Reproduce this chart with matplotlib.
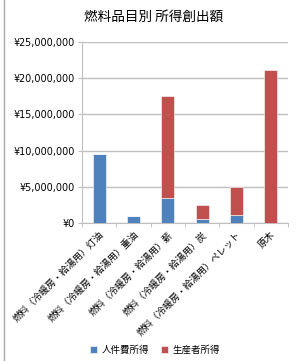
import matplotlib.pyplot as plt
import numpy as np

plt.rcParams['font.family'] = ['Noto Sans CJK JP', 'DejaVu Sans']

# データ
categories = ["燃料（冷暖房・給湯用）灯油", "燃料（冷暖房・給湯用）重油", "燃料（冷暖房・給湯用）薪",
              "燃料（冷暖房・給湯用）炭", "燃料（冷暖房・給湯用）ペレット", "原木"]
labor = [9500000, 950000, 3500000, 500000, 1100000, 0]
producer = [0, 0, 14000000, 2000000, 3900000, 21100000]
series_names = ["人件費所得", "生産者所得"]
yticks = [0, 5000000, 10000000, 15000000, 20000000, 25000000]

fig = plt.figure(figsize=(2.96, 3.61), dpi=100)
ax = fig.add_axes([82/296, 1-223/361, 206/296, 181/361])

x = np.arange(len(categories))
ax.bar(x, labor, width=0.38, color="#4F81BD", edgecolor="white", linewidth=0.4, label=series_names[0], zorder=3)
ax.bar(x, producer, width=0.38, bottom=labor, color="#C0504D", edgecolor="white", linewidth=0.4, label=series_names[1], zorder=3)

ax.set_xlim(-0.5, len(categories) - 0.5)
ax.set_ylim(0, 25000000)
ax.set_yticks(yticks)
ax.set_yticklabels(["¥{:,}".format(v) for v in yticks], fontsize=6.9, family=['DejaVu Sans'])
ax.yaxis.grid(True, color="#BFBFBF", linewidth=1, zorder=0)

ax.set_xticks(x)
ax.set_xticklabels(categories, rotation=45, ha="right", rotation_mode="anchor", fontsize=6.8)
ax.set_xticks(np.arange(len(categories) + 1) - 0.5, minor=True)
ax.tick_params(axis="x", which="major", length=0, pad=5)
ax.tick_params(axis="x", which="minor", length=3, color="#BFBFBF")
ax.tick_params(axis="y", length=3, color="#BFBFBF", pad=2)

for s in ["top", "right"]:
    ax.spines[s].set_visible(False)
ax.spines["left"].set_color("#BFBFBF")
ax.spines["bottom"].set_color("#BFBFBF")

fig.text(154/296, 1-17/361, "燃料品目別 所得創出額", ha="center", va="center", fontsize=9.8)

fig.legend(loc="center", bbox_to_anchor=(155/296, 1-350/361), ncol=2, frameon=False,
           fontsize=6.8, handlelength=0.7, handleheight=0.7, columnspacing=1.3, handletextpad=0.5)

# 左枠線
fig.add_artist(plt.Line2D([4/296, 4/296], [0, 1], color="#A6A6A6", linewidth=1))

plt.savefig("out.png", dpi=100)
